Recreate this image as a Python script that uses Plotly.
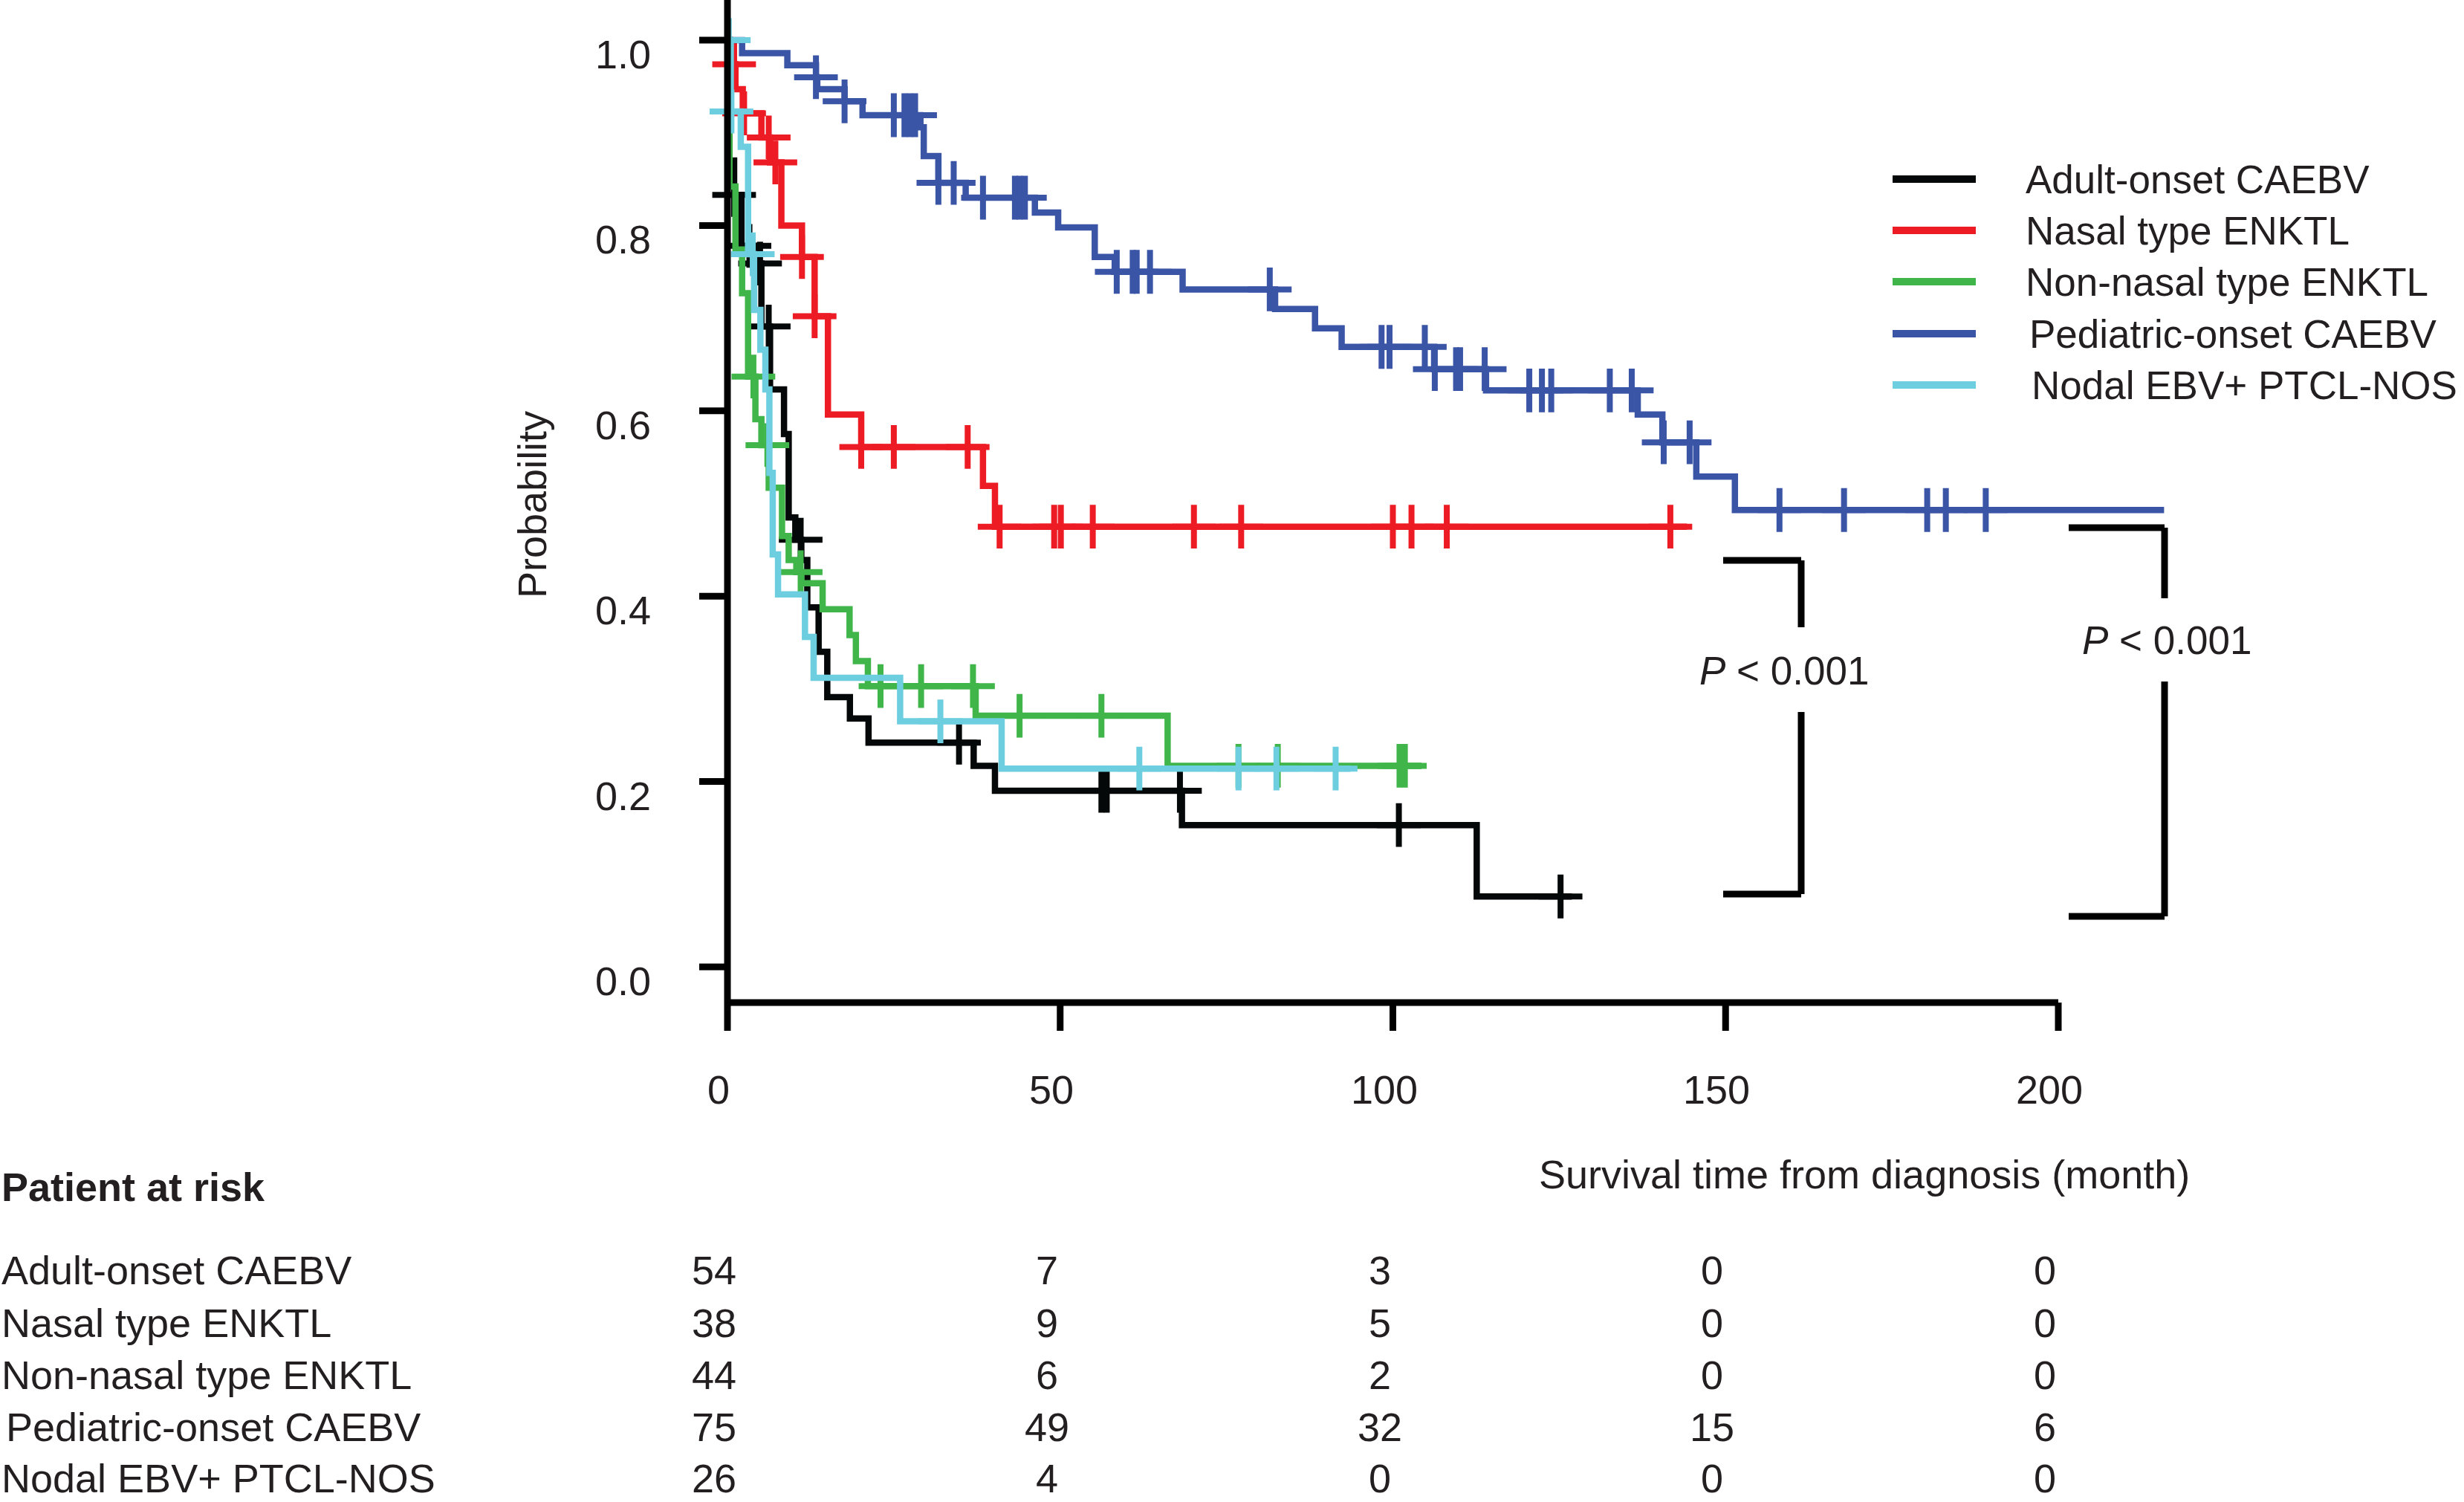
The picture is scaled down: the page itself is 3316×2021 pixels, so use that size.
import numpy as np
import plotly.graph_objects as go

# ---------------- data ----------------
group_names = ["Adult-onset CAEBV", "Nasal type ENKTL", "Non-nasal type ENKTL",
               "Pediatric-onset CAEBV", "Nodal EBV+ PTCL-NOS"]
group_colors = ["#050808", "#ed1c24", "#3fb54a", "#3a55a6", "#6dcedf"]

adult_t = [0, 0.3, 1.0, 2.1, 4.0, 5.1, 6.4, 8.5, 9.2, 10.2, 11.1, 12.0, 13.7, 15.0, 18.4, 21.2, 37.0, 40.2, 68.3, 112.6]
adult_s = [1.0, 0.870, 0.833, 0.778, 0.759, 0.691, 0.623, 0.575, 0.485, 0.461, 0.439, 0.388, 0.340, 0.291, 0.268, 0.242, 0.217, 0.190, 0.153, 0.076]
adult_cens = [1.0, 3.3, 4.9, 6.2, 11.0, 34.8, 56.2, 57.0, 68.0, 100.9, 125.2]
adult_end = 126.9

nasal_t = [0, 0.4, 1.2, 2.3, 5.1, 6.4, 8.1, 11.2, 13.1, 15.1, 20.1, 38.4, 40.2]
nasal_s = [1.0, 0.974, 0.947, 0.921, 0.895, 0.868, 0.800, 0.766, 0.702, 0.596, 0.561, 0.519, 0.475]
nasal_cens = [1.0, 2.5, 6.2, 7.2, 11.2, 13.1, 20.1, 25.0, 36.1, 40.9, 49.1, 50.1, 54.9, 70.1, 77.2, 100.0, 102.8, 108.1, 141.7]
nasal_end = 144.2

nonnasal_t = [0, 0.3, 1.2, 2.2, 3.1, 4.2, 5.1, 6.2, 8.2, 9.2, 10.35, 11.1, 14.3, 18.35, 19.3, 21.1, 37.3, 66.15]
nonnasal_s = [1.0, 0.842, 0.774, 0.727, 0.637, 0.591, 0.563, 0.517, 0.465, 0.439, 0.426, 0.414, 0.386, 0.358, 0.330, 0.303, 0.271, 0.217]
nonnasal_cens = [3.9, 6.0, 11.0, 23.0, 29.1, 36.9, 43.9, 56.2, 76.8, 82.7, 101.0, 101.8]
nonnasal_end = 104.3

pediatric_t = [0, 2.2, 9.0, 13.3, 13.5, 17.6, 20.3, 29.0, 29.5, 31.7, 35.8, 46.2, 49.7, 55.2, 58.2, 68.4,
               82.3, 88.3, 92.3, 106.2, 114.0, 136.8, 140.5, 145.6, 151.4]
pediatric_s = [1.0, 0.986, 0.973, 0.960, 0.947, 0.934, 0.919, 0.906, 0.875, 0.846, 0.830, 0.814, 0.798, 0.766,
               0.750, 0.731, 0.710, 0.689, 0.669, 0.645, 0.622, 0.596, 0.566, 0.529, 0.493]
pediatric_cens = [13.3, 17.6, 25.0, 26.6, 27.4, 28.2, 31.7, 34.0, 38.4, 43.2, 43.9, 44.7, 58.5, 60.9, 61.5,
                  63.5, 81.5, 98.3, 99.5, 104.8, 106.3, 109.5, 110.1, 113.8, 120.5, 122.4, 123.8, 132.6,
                  135.9, 140.7, 144.6, 158.1, 167.8, 180.3, 183.1, 189.1]
pediatric_end = 215.9

nodal_t = [0, 0.5, 2.0, 3.1, 4.0, 4.95, 5.7, 6.3, 6.8, 7.6, 11.65, 12.95, 25.95, 41.2]
nodal_s = [1.0, 0.923, 0.885, 0.769, 0.709, 0.666, 0.623, 0.533, 0.445, 0.402, 0.356, 0.312, 0.265, 0.214]
nodal_cens = [0.2, 0.6, 3.8, 32.0, 61.9, 76.8, 82.5, 91.4]
nodal_end = 93.6

x_ticks = [0, 50, 100, 150, 200]
y_ticks = [0.0, 0.2, 0.4, 0.6, 0.8, 1.0]
y_tick_labels = ["0.0", "0.2", "0.4", "0.6", "0.8", "1.0"]

risk_adult = [54, 7, 3, 0, 0]
risk_nasal = [38, 9, 5, 0, 0]
risk_nonnasal = [44, 6, 2, 0, 0]
risk_pediatric = [75, 49, 32, 15, 6]
risk_nodal = [26, 4, 0, 0, 0]

p_labels = ["<i>P</i> < 0.001", "<i>P</i> < 0.001"]

# ---------------- geometry ----------------
W, H = 3316, 2021
X0_PX, PX_PER_MONTH = 979.0, 8.955
Y0_PX, PX_PER_UNIT = 1301.0, 1247.0
XR = [-X0_PX / PX_PER_MONTH, (W - X0_PX) / PX_PER_MONTH]
YR = [-(H - Y0_PX) / PX_PER_UNIT, Y0_PX / PX_PER_UNIT]


def X(px):
    return (px - X0_PX) / PX_PER_MONTH


def Y(py):
    return (Y0_PX - py) / PX_PER_UNIT


FONT = "Liberation Sans Narrow, Arial Narrow, Liberation Sans, Arial, sans-serif"
TXT = "#231f20"
FS = 54
FS_LEG = 53
AX_W = 9

groups = [
    (adult_t, adult_s, adult_cens, adult_end),
    (nasal_t, nasal_s, nasal_cens, nasal_end),
    (nonnasal_t, nonnasal_s, nonnasal_cens, nonnasal_end),
    (pediatric_t, pediatric_s, pediatric_cens, pediatric_end),
    (nodal_t, nodal_s, nodal_cens, nodal_end),
]
risk_rows = [risk_adult, risk_nasal, risk_nonnasal, risk_pediatric, risk_nodal]

fig = go.Figure()

for name, col, (t, s, cens, end) in zip(group_names, group_colors, groups):
    xs = list(t) + [end]
    ys = list(s) + [s[-1]]
    fig.add_trace(go.Scatter(x=xs, y=ys, mode="lines", line=dict(color=col, width=8.5, shape="hv"),
                             name=name, showlegend=False, hoverinfo="skip"))
    ta = np.array(t)
    sa = np.array(s)
    idx = np.searchsorted(ta, np.array(cens), side="right") - 1
    fig.add_trace(go.Scatter(x=cens, y=sa[idx], mode="markers",
                             marker=dict(symbol="cross-thin", size=42, line=dict(color=col, width=8)),
                             showlegend=False, hoverinfo="skip"))

shapes = []
annotations = []
x_axis_y = Y(1349)
# y axis line and ticks
shapes.append(dict(type="line", x0=0, x1=0, y0=YR[1], y1=x_axis_y, line=dict(color="black", width=AX_W)))
for v, lab in zip(y_ticks, y_tick_labels):
    shapes.append(dict(type="line", xref="x", yref="y", xsizemode="pixel", xanchor=0, x0=-38, x1=0,
                       y0=v, y1=v, line=dict(color="black", width=AX_W)))
    annotations.append(dict(x=X(878), y=v, text=lab, showarrow=False, xanchor="right", yanchor="middle",
                            yshift=-19, font=dict(family=FONT, size=FS, color=TXT)))
# x axis line and ticks
shapes.append(dict(type="line", x0=x_ticks[0], x1=x_ticks[-1], y0=x_axis_y, y1=x_axis_y,
                   line=dict(color="black", width=AX_W)))
for v in x_ticks:
    shapes.append(dict(type="line", xref="x", yref="y", ysizemode="pixel", yanchor=x_axis_y, y0=-38, y1=0,
                       x0=v, x1=v, line=dict(color="black", width=AX_W)))
    annotations.append(dict(x=v, y=Y(1466), text=str(v), showarrow=False, xanchor="center", yanchor="middle",
                            xshift=-12, font=dict(family=FONT, size=FS, color=TXT)))

# axis titles
annotations.append(dict(x=X(716), y=Y(679), text="Probability", textangle=-90, showarrow=False,
                        xanchor="center", yanchor="middle", font=dict(family=FONT, size=FS, color=TXT)))
annotations.append(dict(x=X(2509), y=Y(1580), text="Survival time from diagnosis (month)", showarrow=False,
                        xanchor="center", yanchor="middle", font=dict(family=FONT, size=FS, color=TXT)))

# legend
leg_y = [241, 310, 379, 449, 518]
leg_tx = [2724, 2724, 2724, 2729, 2732]
for name, col, ly, tx in zip(group_names, group_colors, leg_y, leg_tx):
    shapes.append(dict(type="line", x0=X(2547), x1=X(2659), y0=Y(ly), y1=Y(ly), line=dict(color=col, width=10)))
    annotations.append(dict(x=X(tx), y=Y(ly), text=name, showarrow=False, xanchor="left", yanchor="middle",
                            font=dict(family=FONT, size=FS_LEG, color=TXT)))

# p-value brackets
brackets = [
    dict(x_left=2319, x_v=2424, y_top=754, y_gap0=844, y_gap1=958, y_bot=1203, tx=2401, ty=902),
    dict(x_left=2784, x_v=2913, y_top=710, y_gap0=805, y_gap1=917, y_bot=1233, tx=2916, ty=861),
]
for b, lab in zip(brackets, p_labels):
    lw = dict(color="black", width=AX_W)
    shapes.append(dict(type="line", x0=X(b["x_left"]), x1=X(b["x_v"]), y0=Y(b["y_top"]), y1=Y(b["y_top"]), line=lw))
    shapes.append(dict(type="line", x0=X(b["x_v"]), x1=X(b["x_v"]), y0=Y(b["y_top"]), y1=Y(b["y_gap0"]), line=lw))
    shapes.append(dict(type="line", x0=X(b["x_v"]), x1=X(b["x_v"]), y0=Y(b["y_gap1"]), y1=Y(b["y_bot"]), line=lw))
    shapes.append(dict(type="line", x0=X(b["x_left"]), x1=X(b["x_v"]), y0=Y(b["y_bot"]), y1=Y(b["y_bot"]), line=lw))
    annotations.append(dict(x=X(b["tx"]), y=Y(b["ty"]), text=lab, showarrow=False, xanchor="center",
                            yanchor="middle", font=dict(family=FONT, size=FS_LEG, color=TXT)))

# risk table
annotations.append(dict(x=X(0), y=Y(1597), text="<b>Patient at risk</b>", showarrow=False, xanchor="left",
                        yanchor="middle", font=dict(family=FONT, size=FS, color=TXT)))
row_y = [1709, 1780, 1850, 1920, 1989]
row_x = [0, 0, 0, 6, 0]
for name, counts, ry, rx in zip(group_names, risk_rows, row_y, row_x):
    annotations.append(dict(x=X(rx), y=Y(ry), text=name, showarrow=False, xanchor="left", yanchor="middle",
                            font=dict(family=FONT, size=FS, color=TXT)))
    for v, c in zip(x_ticks, counts):
        annotations.append(dict(x=v, y=Y(ry), text=str(c), showarrow=False, xanchor="center", yanchor="middle",
                                xshift=-18, font=dict(family=FONT, size=FS, color=TXT)))

fig.update_layout(
    width=W, height=H, autosize=False,
    margin=dict(l=0, r=0, t=0, b=0, pad=0),
    paper_bgcolor="white", plot_bgcolor="white",
    xaxis=dict(range=XR, visible=False, fixedrange=True),
    yaxis=dict(range=YR, visible=False, fixedrange=True),
    shapes=shapes, annotations=annotations, showlegend=False,
)

fig.write_html("out.html", config={"displayModeBar": False},
               post_script="document.body.style.margin='0';document.body.style.overflow='hidden';")
